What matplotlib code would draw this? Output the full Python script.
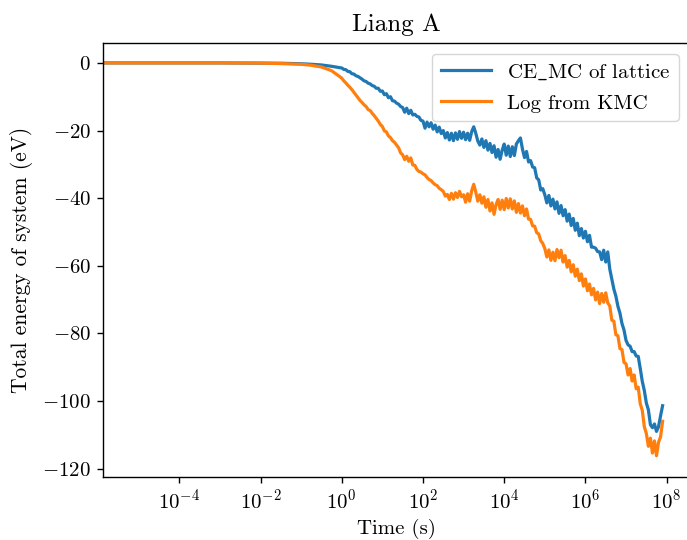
import numpy as np
import matplotlib
matplotlib.use("Agg")
import matplotlib.pyplot as plt
from matplotlib.ticker import FixedLocator, NullLocator, LogFormatterSciNotation

plt.rcParams["font.family"] = ["cmr10", "DejaVu Serif"]
plt.rcParams["mathtext.fontset"] = "cm"
plt.rcParams["axes.formatter.use_mathtext"] = True
plt.rcParams["axes.unicode_minus"] = True

# log10 of simulation time (s)
log_time = [-5.87, -4.0, -3.0, -2.0, -1.5, -1.0, -0.75, -0.5, -0.25] + [
    0.00, 0.05, 0.10, 0.15, 0.20, 0.25, 0.30, 0.35, 0.40, 0.45,
    0.50, 0.55, 0.60, 0.65, 0.70, 0.75, 0.80, 0.85, 0.90, 0.95,
    1.00, 1.05, 1.10, 1.15, 1.20, 1.25, 1.30, 1.35, 1.40, 1.45,
    1.50, 1.55, 1.60, 1.65, 1.70, 1.75, 1.80, 1.85, 1.90, 1.95,
    2.00, 2.05, 2.10, 2.15, 2.20, 2.25, 2.30, 2.35, 2.40, 2.45,
    2.50, 2.55, 2.60, 2.65, 2.70, 2.75, 2.80, 2.85, 2.90, 2.95,
    3.00, 3.05, 3.10, 3.15, 3.20, 3.25, 3.30, 3.35, 3.40, 3.45,
    3.50, 3.55, 3.60, 3.65, 3.70, 3.75, 3.80, 3.85, 3.90, 3.95,
    4.00, 4.05, 4.10, 4.15, 4.20, 4.25, 4.30, 4.35, 4.40, 4.45,
    4.50, 4.55, 4.60, 4.65, 4.70, 4.75, 4.80, 4.85, 4.90, 4.95,
    5.00, 5.05, 5.10, 5.15, 5.20, 5.25, 5.30, 5.35, 5.40, 5.45,
    5.50, 5.55, 5.60, 5.65, 5.70, 5.75, 5.80, 5.85, 5.90, 5.95,
    6.00, 6.05, 6.10, 6.15, 6.20, 6.25, 6.30, 6.35, 6.40, 6.45,
    6.50, 6.55, 6.60, 6.65, 6.70, 6.75, 6.80, 6.85, 6.90, 6.95,
    7.00, 7.05, 7.10, 7.15, 7.20, 7.25, 7.30, 7.35, 7.40, 7.45,
    7.50, 7.55, 7.60, 7.65, 7.70, 7.75, 7.80, 7.85, 7.90,
]

# Total energy from the cluster-expansion Monte Carlo evaluation of the lattice (eV)
energy_ce_mc = [0.0, 0.0, 0.0, -0.05, -0.1, -0.25, -0.4, -0.6, -1.0] + [
    -1.5, -1.9, -2.0, -2.5, -2.6, -3.2, -3.3, -3.8, -4.0, -4.4,
    -4.8, -5.3, -5.5, -6.0, -6.2, -6.7, -6.9, -7.5, -7.5, -8.4,
    -8.3, -9.4, -9.1, -10.3, -10.0, -11.2, -11.3, -11.9, -12.2, -12.9,
    -13.2, -14.6, -13.4, -15.0, -14.0, -15.4, -15.2, -15.8, -16.0, -17.0,
    -17.2, -19.3, -17.5, -18.9, -17.7, -19.6, -18.4, -20.4, -19.0, -20.9,
    -20.0, -22.2, -20.6, -22.8, -20.8, -23.0, -20.7, -22.6, -20.3, -22.3,
    -20.5, -22.7, -20.8, -22.9, -20.3, -18.9, -20.8, -23.1, -24.3, -22.5,
    -25.0, -23.0, -25.8, -23.8, -26.5, -24.5, -27.9, -25.6, -28.5, -25.8,
    -24.0, -27.3, -24.6, -27.7, -24.8, -27.4, -24.0, -23.0, -22.2, -25.5,
    -28.0, -26.2, -29.3, -28.9, -30.8, -31.0, -34.0, -34.6, -37.6, -37.2,
    -39.0, -41.4, -39.2, -42.3, -40.3, -43.2, -41.1, -44.5, -42.2, -45.2,
    -43.4, -46.8, -44.7, -48.1, -46.0, -49.5, -47.4, -51.1, -49.0, -51.8,
    -49.8, -52.9, -51.0, -54.5, -54.5, -54.8, -55.8, -55.9, -58.2, -55.4,
    -58.9, -55.9, -61.0, -63.9, -66.9, -69.0, -72.0, -74.0, -77.1, -79.0,
    -82.1, -83.4, -83.8, -85.4, -85.4, -86.7, -86.8, -90.4, -94.2, -96.9,
    -100.6, -102.6, -107.0, -107.9, -106.8, -109.0, -107.6, -104.4, -101.4,
]

# Total energy logged during the kinetic Monte Carlo run (eV)
energy_kmc = [0.0, 0.0, 0.0, -0.05, -0.2, -0.4, -0.7, -1.2, -2.3] + [
    -4.5, -5.3, -5.9, -6.6, -7.2, -7.9, -8.7, -9.5, -10.3, -11.1,
    -11.7, -12.4, -12.9, -13.8, -14.1, -14.9, -15.6, -16.4, -17.2, -18.2,
    -18.8, -20.1, -20.4, -21.6, -22.1, -23.0, -23.5, -24.3, -25.1, -26.6,
    -27.2, -28.6, -27.6, -29.1, -28.1, -30.2, -30.3, -31.5, -32.1, -32.3,
    -32.8, -33.1, -33.9, -34.5, -34.8, -35.5, -36.0, -36.3, -37.1, -37.5,
    -38.0, -39.4, -38.9, -40.4, -38.6, -40.3, -38.4, -39.8, -38.0, -39.6,
    -39.0, -41.2, -38.7, -40.9, -37.8, -35.9, -38.2, -40.9, -39.0, -41.5,
    -39.6, -42.7, -40.4, -43.8, -41.4, -44.8, -41.9, -40.4, -43.3, -40.6,
    -43.4, -40.1, -42.9, -40.2, -43.2, -40.8, -44.2, -41.6, -44.4, -42.3,
    -45.2, -43.2, -46.2, -46.3, -48.2, -48.3, -50.2, -50.6, -52.6, -53.4,
    -54.9, -57.4, -55.3, -58.4, -56.0, -58.5, -55.2, -57.6, -55.4, -58.9,
    -57.0, -60.4, -58.4, -61.8, -59.7, -63.1, -61.0, -64.4, -62.4, -66.0,
    -63.9, -67.4, -65.4, -68.6, -66.7, -70.1, -67.8, -71.2, -68.2, -70.8,
    -68.0, -71.0, -71.9, -76.1, -76.4, -80.4, -80.7, -84.5, -84.8, -88.6,
    -89.0, -92.3, -90.4, -94.1, -92.3, -96.4, -95.9, -100.8, -102.8, -107.6,
    -109.6, -113.4, -111.0, -115.4, -111.8, -116.2, -112.2, -110.6, -106.0,
]

series_labels = [r"CE$\_$MC of lattice", "Log from KMC"]
x_tick_exponents = [-4, -2, 0, 2, 4, 6, 8]
y_ticks = [0, -20, -40, -60, -80, -100, -120]

time_s = 10.0 ** np.asarray(log_time)

fig = plt.figure(figsize=(6.87, 5.40), dpi=100)
ax = fig.add_axes([0.1504, 0.1172, 0.8525, 0.8026])

ax.plot(time_s, energy_ce_mc, color="#1f77b4", lw=2.3, label=series_labels[0])
ax.plot(time_s, energy_kmc, color="#ff7f0e", lw=2.3, label=series_labels[1])

ax.set_xscale("log")
ax.set_xlim(10 ** -5.87, 10 ** 8.55)
ax.set_ylim(-122.4, 5.8)
ax.xaxis.set_major_locator(FixedLocator([10.0 ** e for e in x_tick_exponents]))
ax.xaxis.set_major_formatter(LogFormatterSciNotation())
ax.xaxis.set_minor_locator(NullLocator())
ax.set_yticks(y_ticks)

for side in ax.spines.values():
    side.set_linewidth(1.0)
ax.tick_params(axis="both", which="major", labelsize=15, length=4.4, width=1.0, pad=4.4)

ax.set_xlabel("Time (s)", fontsize=15)
ax.set_ylabel("Total energy of system (eV)", fontsize=15.5, labelpad=7)
ax.set_title("Liang A", fontsize=18, pad=9)
ax.legend(loc="upper right", fontsize=15, borderaxespad=0.5,
          handlelength=2.4, labelspacing=0.6)

fig.savefig("out.png", dpi=100)
